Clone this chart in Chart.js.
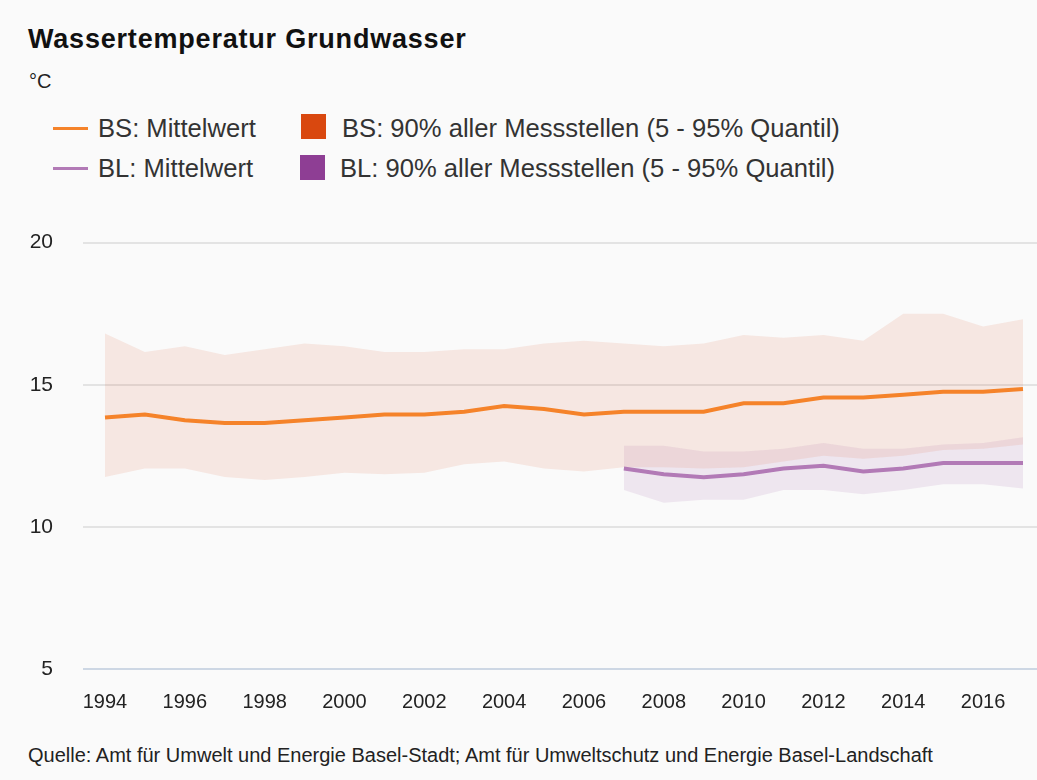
<!DOCTYPE html>
<html>
<head>
<meta charset="utf-8">
<script src="https://cdn.jsdelivr.net/npm/chart.js@4.4.1/dist/chart.umd.min.js"></script>
<style>
  html, body { margin: 0; padding: 0; background: #fafafa; }
  body { width: 1037px; height: 780px; position: relative; overflow: hidden; font-family: "Liberation Sans", Arial, sans-serif; color: #222; }
  #title { position: absolute; left: 28px; top: 24px; font-size: 27px; font-weight: bold; color: #111; white-space: nowrap; letter-spacing: 0.8px; }
  #unit { position: absolute; left: 29px; top: 70px; font-size: 20px; color: #222; }
  .lg { position: absolute; font-size: 25.6px; color: #333; white-space: nowrap; line-height: 30px; }
  .ln { position: absolute; height: 3px; width: 35px; }
  .sq { position: absolute; width: 25px; height: 25px; }
  #source { position: absolute; left: 28px; top: 744px; font-size: 20px; color: #222; white-space: nowrap; }
  #wrap { position: absolute; left: 0; top: 200px; width: 1037px; height: 530px; }
</style>
</head>
<body>
<div id="title">Wassertemperatur Grundwasser</div>
<div id="unit">°C</div>

<div class="ln" style="left:53px; top:127px; background:#f5832a;"></div>
<div class="lg" style="left:98px; top:113px;">BS: Mittelwert</div>
<div class="sq" style="left:301px; top:114px; background:#d9480f;"></div>
<div class="lg" style="left:342px; top:113px;">BS: 90% aller Messstellen (5 - 95% Quantil)</div>

<div class="ln" style="left:53px; top:167px; background:#b27ab6;"></div>
<div class="lg" style="left:98px; top:153px;">BL: Mittelwert</div>
<div class="sq" style="left:300px; top:155px; background:#8e3e94;"></div>
<div class="lg" style="left:340px; top:153px;">BL: 90% aller Messstellen (5 - 95% Quantil)</div>

<div id="wrap"><canvas id="c" width="1037" height="530"></canvas></div>
<div id="source">Quelle: Amt für Umwelt und Energie Basel-Stadt; Amt für Umweltschutz und Energie Basel-Landschaft</div>

<script>
const years = [1994,1995,1996,1997,1998,1999,2000,2001,2002,2003,2004,2005,2006,2007,2008,2009,2010,2011,2012,2013,2014,2015,2016,2017];
const bsMean  = [13.85,13.95,13.75,13.65,13.65,13.75,13.85,13.95,13.95,14.05,14.25,14.15,13.95,14.05,14.05,14.05,14.35,14.35,14.55,14.55,14.65,14.75,14.75,14.85];
const bsUpper = [16.8,16.15,16.35,16.05,16.25,16.45,16.35,16.15,16.15,16.25,16.25,16.45,16.55,16.45,16.35,16.45,16.75,16.65,16.75,16.55,17.5,17.5,17.05,17.3];
const bsLower = [11.75,12.05,12.05,11.75,11.65,11.75,11.9,11.85,11.9,12.2,12.3,12.05,11.95,12.1,12.1,12.05,12.1,12.3,12.5,12.4,12.5,12.7,12.75,12.9];

const blYears = [2007,2008,2009,2010,2011,2012,2013,2014,2015,2016,2017];
const blMean  = [12.05,11.85,11.75,11.85,12.05,12.15,11.95,12.05,12.25,12.25,12.25];
const blUpper = [12.85,12.85,12.65,12.65,12.75,12.95,12.75,12.75,12.9,12.95,13.15];
const blLower = [11.3,10.85,10.95,10.95,11.3,11.3,11.15,11.3,11.5,11.5,11.35];

const xTicks = [1994,1996,1998,2000,2002,2004,2006,2008,2010,2012,2014,2016];
const yTicks = [5,10,15,20];

const pts = (xs, ys) => xs.map((x, i) => ({x: x, y: ys[i]}));

const FONT = '"Liberation Sans", Arial, sans-serif';

new Chart(document.getElementById('c'), {
  type: 'line',
  data: {
    datasets: [
      { label: 'BS: Mittelwert', data: pts(years, bsMean), borderColor: '#f5832a', borderWidth: 4, pointRadius: 0, fill: false, tension: 0 },
      { label: 'BL: Mittelwert', data: pts(blYears, blMean), borderColor: '#b27ab6', borderWidth: 4, pointRadius: 0, fill: false, tension: 0 },
      { label: 'BS upper', data: pts(years, bsUpper), borderWidth: 0, borderColor: 'rgba(0,0,0,0)', pointRadius: 0, fill: '+1', backgroundColor: 'rgba(217,72,15,0.1)', tension: 0 },
      { label: 'BS lower', data: pts(years, bsLower), borderWidth: 0, borderColor: 'rgba(0,0,0,0)', pointRadius: 0, fill: false, tension: 0 },
      { label: 'BL upper', data: pts(blYears, blUpper), borderWidth: 0, borderColor: 'rgba(0,0,0,0)', pointRadius: 0, fill: '+1', backgroundColor: 'rgba(142,62,148,0.1)', tension: 0 },
      { label: 'BL lower', data: pts(blYears, blLower), borderWidth: 0, borderColor: 'rgba(0,0,0,0)', pointRadius: 0, fill: false, tension: 0 }
    ]
  },
  options: {
    responsive: false,
    animation: false,
    events: [],
    layout: { padding: { top: 34, right: 0, left: 0, bottom: 0 } },
    plugins: { legend: { display: false }, tooltip: { enabled: false }, title: { display: false } },
    scales: {
      x: {
        type: 'linear',
        min: 1993.449,
        max: 2017.351,
        afterBuildTicks: (s) => { s.ticks = xTicks.map(v => ({value: v})); },
        afterFit: (s) => { s.height = 61; },
        grid: { display: false, drawTicks: false },
        border: { display: false },
        ticks: { padding: 21, color: '#222', font: { family: FONT, size: 20 }, maxRotation: 0, autoSkip: false, callback: (v) => String(v) }
      },
      y: {
        min: 5,
        max: 20,
        afterBuildTicks: (s) => { s.ticks = yTicks.map(v => ({value: v})); },
        afterFit: (s) => { s.width = 83; },
        grid: { drawTicks: false, lineWidth: 2, color: (ctx) => ctx.tick && ctx.tick.value === 5 ? '#cdd7e4' : '#e3e3e3' },
        border: { display: false },
        ticks: { padding: 30, color: '#222', font: { family: FONT, size: 21 } }
      }
    }
  }
});
</script>
</body>
</html>
